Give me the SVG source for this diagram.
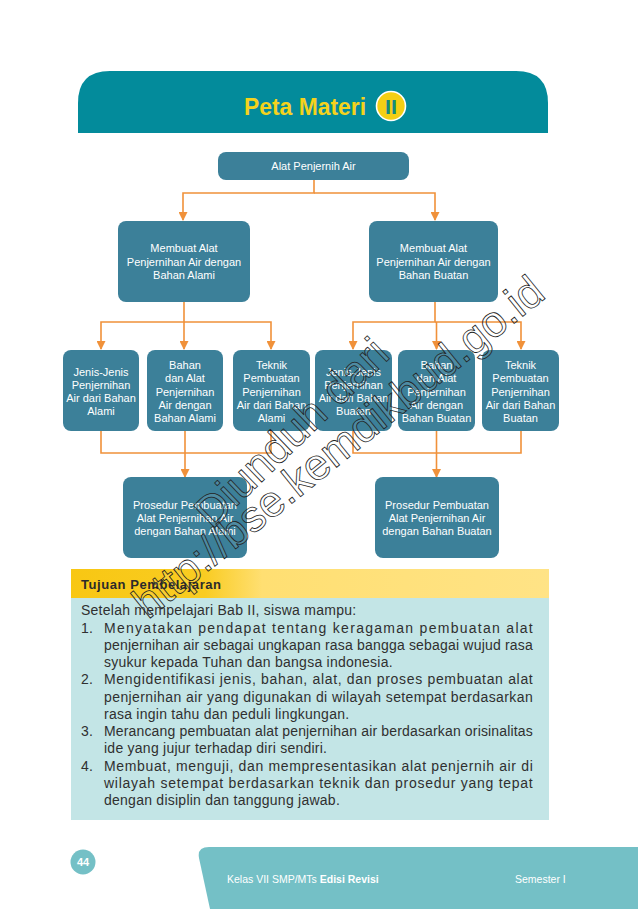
<svg xmlns="http://www.w3.org/2000/svg" width="638" height="909" viewBox="0 0 638 909">
<defs>
<style>
.node{fill:#3C8099;}
.nt{font-family:"Liberation Sans",Arial,sans-serif;font-size:11px;fill:#ffffff;text-anchor:middle;}
.conn{fill:none;stroke:#F0913A;stroke-width:1.6;}
.body{font-family:"Liberation Sans",Arial,sans-serif;font-size:14px;letter-spacing:0.25px;fill:#303030;}
.wm{font-family:"Liberation Sans",Arial,sans-serif;font-size:44px;fill:#ffffff;fill-opacity:0.1;stroke:#222;stroke-width:0.8;}
.foot{font-family:"Liberation Sans",Arial,sans-serif;font-size:10.5px;fill:#ffffff;}
</style>
<marker id="arr" markerWidth="9" markerHeight="9" refX="8" refY="4.5" orient="auto" markerUnits="userSpaceOnUse">
<path d="M0 0 L9 4.5 L0 9 Z" fill="#F0913A"/>
</marker>
<linearGradient id="yel" gradientUnits="userSpaceOnUse" x1="71" y1="0" x2="549" y2="0">
<stop offset="0" stop-color="#F8C713"/>
<stop offset="0.28" stop-color="#F9CC22"/>
<stop offset="0.40" stop-color="#FFDF72"/>
<stop offset="1" stop-color="#FFE386"/>
</linearGradient>
</defs>
<rect width="638" height="909" fill="#ffffff"/>

<g id="header">
<path d="M78 133 V103 Q78 71 110 71 H516 Q548 71 548 103 V133 Z" fill="#038B9B"/>
<text x="244" y="115" font-family="Liberation Sans,Arial,sans-serif" font-weight="bold" font-size="24" fill="#F4D21D" textLength="122" lengthAdjust="spacingAndGlyphs">Peta Materi</text>
<circle cx="391" cy="106" r="14.5" fill="#F4CF14" stroke="#ffffff" stroke-width="1.6"/>
<text x="391" y="114" font-family="Liberation Sans,Arial,sans-serif" font-weight="bold" font-size="21" fill="#138A7E" text-anchor="middle" textLength="12" lengthAdjust="spacingAndGlyphs">II</text>
</g>

<g id="connectors">
<path class="conn" d="M314 180 V193 H183 V220" marker-end="url(#arr)"/>
<path class="conn" d="M314 193 H435 V220" marker-end="url(#arr)"/>
<path class="conn" d="M184 302 V322 H101 V349" marker-end="url(#arr)"/>
<path class="conn" d="M184 322 V349" marker-end="url(#arr)"/>
<path class="conn" d="M184 322 H271 V349" marker-end="url(#arr)"/>
<path class="conn" d="M435 302 V322 H353 V349" marker-end="url(#arr)"/>
<path class="conn" d="M436.5 322 V349" marker-end="url(#arr)"/>
<path class="conn" d="M435 322 H521 V349" marker-end="url(#arr)"/>
<path class="conn" d="M101 431 V453 H271 V431 M185 431 V453"/>
<path class="conn" d="M185 453 V477" marker-end="url(#arr)"/>
<path class="conn" d="M353 431 V453 H521 V431 M436.5 431 V453"/>
<path class="conn" d="M436.5 453 V477" marker-end="url(#arr)"/>
</g>

<g id="n-root">
<rect class="node" x="218" y="152" width="191" height="28" rx="8"/>
<text class="nt" x="313.5" y="170">Alat Penjernih Air</text>
</g>
<g id="n-alami">
<rect class="node" x="118" y="221" width="132" height="81" rx="8"/>
<text class="nt" x="184" y="252">Membuat Alat</text>
<text class="nt" x="184" y="265.5">Penjernihan Air dengan</text>
<text class="nt" x="184" y="279">Bahan Alami</text>
</g>
<g id="n-buatan">
<rect class="node" x="369" y="221" width="129" height="81" rx="8"/>
<text class="nt" x="433.5" y="252">Membuat Alat</text>
<text class="nt" x="433.5" y="265.5">Penjernihan Air dengan</text>
<text class="nt" x="433.5" y="279">Bahan Buatan</text>
</g>

<g id="n-jenis-alami">
<rect class="node" x="63" y="350" width="76" height="81" rx="8"/>
<text class="nt" x="101" y="376">Jenis-Jenis</text>
<text class="nt" x="101" y="389">Penjernihan</text>
<text class="nt" x="101" y="402">Air dari Bahan</text>
<text class="nt" x="101" y="415">Alami</text>
</g>
<g id="n-bahan-alami">
<rect class="node" x="147" y="350" width="76" height="81" rx="8"/>
<text class="nt" x="185" y="369">Bahan</text>
<text class="nt" x="185" y="382">dan Alat</text>
<text class="nt" x="185" y="396">Penjernihan</text>
<text class="nt" x="185" y="409">Air dengan</text>
<text class="nt" x="185" y="422">Bahan Alami</text>
</g>
<g id="n-teknik-alami">
<rect class="node" x="233" y="350" width="77" height="81" rx="8"/>
<text class="nt" x="271.5" y="369">Teknik</text>
<text class="nt" x="271.5" y="382">Pembuatan</text>
<text class="nt" x="271.5" y="396">Penjernihan</text>
<text class="nt" x="271.5" y="409">Air dari Bahan</text>
<text class="nt" x="271.5" y="422">Alami</text>
</g>
<g id="n-jenis-buatan">
<rect class="node" x="315" y="350" width="77" height="81" rx="8"/>
<text class="nt" x="353.5" y="376">Jenis-Jenis</text>
<text class="nt" x="353.5" y="389">Penjernihan</text>
<text class="nt" x="353.5" y="402">Air dari Bahan</text>
<text class="nt" x="353.5" y="415">Buatan</text>
</g>
<g id="n-bahan-buatan">
<rect class="node" x="398" y="350" width="77" height="81" rx="8"/>
<text class="nt" x="436.5" y="369">Bahan</text>
<text class="nt" x="436.5" y="382">dan Alat</text>
<text class="nt" x="436.5" y="396">Penjernihan</text>
<text class="nt" x="436.5" y="409">Air dengan</text>
<text class="nt" x="436.5" y="422">Bahan Buatan</text>
</g>
<g id="n-teknik-buatan">
<rect class="node" x="482" y="350" width="77" height="81" rx="8"/>
<text class="nt" x="520.5" y="369">Teknik</text>
<text class="nt" x="520.5" y="382">Pembuatan</text>
<text class="nt" x="520.5" y="396">Penjernihan</text>
<text class="nt" x="520.5" y="409">Air dari Bahan</text>
<text class="nt" x="520.5" y="422">Buatan</text>
</g>

<g id="n-prosedur-alami">
<rect class="node" x="123" y="477" width="124" height="81" rx="8"/>
<text class="nt" x="185" y="509">Prosedur Pembuatan</text>
<text class="nt" x="185" y="522">Alat Penjernihan Air</text>
<text class="nt" x="185" y="535">dengan Bahan Alami</text>
</g>
<g id="n-prosedur-buatan">
<rect class="node" x="375" y="477" width="124" height="81" rx="8"/>
<text class="nt" x="437" y="509">Prosedur Pembuatan</text>
<text class="nt" x="437" y="522">Alat Penjernihan Air</text>
<text class="nt" x="437" y="535">dengan Bahan Buatan</text>
</g>

<g id="tujuan">
<rect x="71" y="569" width="478" height="29" fill="url(#yel)"/>
<rect x="71" y="598" width="478" height="222" fill="#C3E5E6"/>
<text x="81" y="589" font-family="Liberation Sans,Arial,sans-serif" font-weight="bold" font-size="13" fill="#2b2b2b" textLength="140" lengthAdjust="spacing">Tujuan  Pembelajaran</text>
<text class="body" x="81" y="615">Setelah mempelajari Bab II, siswa mampu:</text>
<text class="body" x="81" y="633">1.</text>
<text class="body" x="104" y="633" textLength="429" lengthAdjust="spacing">Menyatakan pendapat tentang keragaman pembuatan alat</text>
<text class="body" x="104" y="650" textLength="429" lengthAdjust="spacing">penjernihan air sebagai ungkapan rasa bangga sebagai wujud rasa</text>
<text class="body" x="104" y="667">syukur kepada Tuhan dan bangsa indonesia.</text>
<text class="body" x="81" y="684">2.</text>
<text class="body" x="104" y="684" textLength="429" lengthAdjust="spacing">Mengidentifikasi jenis, bahan, alat, dan proses pembuatan alat</text>
<text class="body" x="104" y="702" textLength="429" lengthAdjust="spacing">penjernihan air yang digunakan di wilayah setempat berdasarkan</text>
<text class="body" x="104" y="719">rasa ingin tahu dan peduli lingkungan.</text>
<text class="body" x="81" y="736">3.</text>
<text class="body" x="104" y="736" textLength="429" lengthAdjust="spacing">Merancang pembuatan alat penjernihan air berdasarkan orisinalitas</text>
<text class="body" x="104" y="753">ide yang jujur terhadap diri sendiri.</text>
<text class="body" x="81" y="771">4.</text>
<text class="body" x="104" y="771" textLength="429" lengthAdjust="spacing">Membuat, menguji, dan mempresentasikan alat penjernih air di</text>
<text class="body" x="104" y="788" textLength="429" lengthAdjust="spacing">wilayah setempat berdasarkan teknik dan prosedur yang tepat</text>
<text class="body" x="104" y="805">dengan disiplin dan tanggung jawab.</text>
</g>

<g id="footer">
<path d="M210 909 L199 858 Q197 847 209 847 H638 V909 Z" fill="#74C0C6"/>
<circle cx="83" cy="862" r="12.5" fill="#74C0C6"/>
<text x="83" y="866" font-family="Liberation Sans,Arial,sans-serif" font-weight="bold" font-size="11" fill="#ffffff" text-anchor="middle">44</text>
<text class="foot" x="227" y="883">Kelas VII SMP/MTs <tspan font-weight="bold">Edisi Revisi</tspan></text>
<text class="foot" x="515" y="883">Semester I</text>
</g>

<g id="watermark">
<text class="wm" transform="translate(212 530) rotate(-44)">Diunduh dari</text>
<text class="wm" transform="translate(148 620) rotate(-39)">http://bse.kemdikbud.go.id</text>
</g>
</svg>
